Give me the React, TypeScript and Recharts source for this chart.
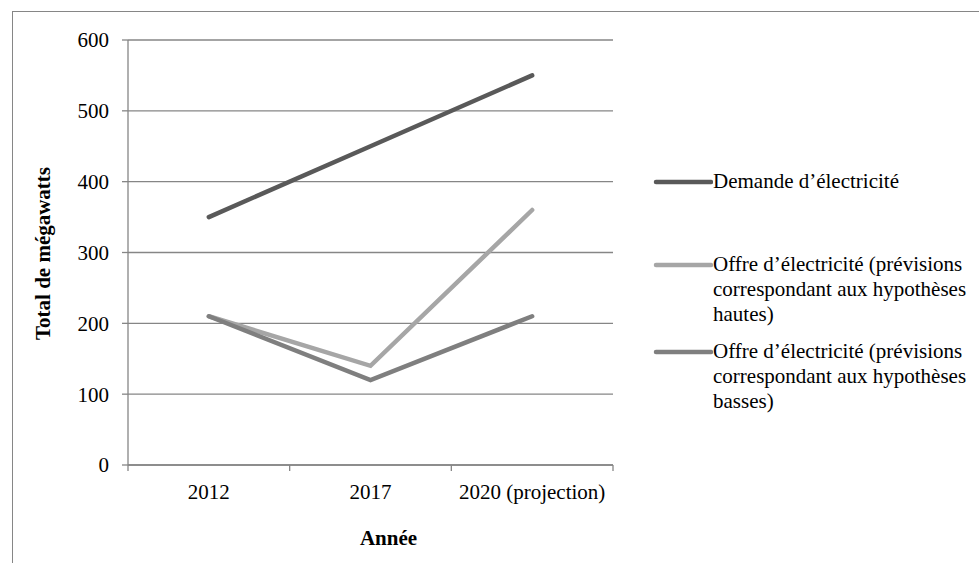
import React from 'react';
import { LineChart, Line, XAxis, YAxis, CartesianGrid, Legend, Label } from 'recharts';

// Categories and series values
const years = ['2012', '2017', '2020 (projection)'];
const demande = [350, 450, 550];
const offreHaute = [210, 140, 360];
const offreBasse = [210, 120, 210];
const yTicks = [0, 100, 200, 300, 400, 500, 600];

const seriesNames = [
  'Demande d’électricité',
  'Offre d’électricité (prévisions correspondant aux hypothèses hautes)',
  'Offre d’électricité (prévisions correspondant aux hypothèses basses)',
];

const data = years.map((y, i) => ({
  year: y,
  demande: demande[i],
  haute: offreHaute[i],
  basse: offreBasse[i],
}));

// Layout
const W = 979;
const H = 563;
const MARGIN = { top: 40, right: 366, left: 48, bottom: 38 };
const Y_AXIS_W = 80;
const X_AXIS_H = 60;
const PLOT_LEFT = MARGIN.left + Y_AXIS_W;
const PLOT_RIGHT = W - MARGIN.right;
const HALF_BAND = (PLOT_RIGHT - PLOT_LEFT) / years.length / 2;

const FONT = '"Liberation Serif", "Times New Roman", serif';
const AXIS_GREY = '#868686';
const COLORS = { demande: '#595959', haute: '#a6a6a6', basse: '#7f7f7f' };

const XTick = (props: any) => {
  const { x, y, payload, index } = props;
  return (
    <g>
      <line x1={x - HALF_BAND} x2={x - HALF_BAND} y1={y} y2={y + 6} stroke={AXIS_GREY} strokeWidth={1.3} />
      {index === years.length - 1 && (
        <line x1={x + HALF_BAND} x2={x + HALF_BAND} y1={y} y2={y + 6} stroke={AXIS_GREY} strokeWidth={1.3} />
      )}
      <text x={x} y={y + 27} textAnchor="middle" dominantBaseline="central" fontFamily={FONT} fontSize={21} fill="#000">
        {payload.value}
      </text>
    </g>
  );
};

const legendTops = [169, 252, 339];

// Legend entries keep the series order; the wrapper takes no room in the layout
const LegendContent = (props: any) => {
  const items = [...(props.payload || [])].sort(
    (a: any, b: any) => seriesNames.indexOf(a.value) - seriesNames.indexOf(b.value)
  );
  return (
    <div style={{ position: 'relative', width: 0, height: 0, overflow: 'visible' }}>
      {items.map((entry: any, i: number) => (
        <div
          key={entry.value}
          style={{ position: 'absolute', left: 0, top: legendTops[i], display: 'flex', alignItems: 'flex-start', width: 330 }}
        >
          <svg width={60} height={25} style={{ flex: 'none' }}>
            <line x1={3} x2={58} y1={13} y2={13} stroke={entry.color} strokeWidth={4.5} strokeLinecap="round" />
          </svg>
          <div style={{ fontFamily: FONT, fontSize: 21, lineHeight: '25px', color: '#000', width: 262 }}>
            {entry.value}
          </div>
        </div>
      ))}
    </div>
  );
};

export default function App() {
  return (
    <div style={{ position: 'absolute', left: 0, top: 0, width: W, height: H, background: '#fff', overflow: 'hidden' }}>
      <div
        style={{
          position: 'absolute',
          left: 11.5,
          top: 10.5,
          width: W,
          height: H,
          borderTop: `1.5px solid ${AXIS_GREY}`,
          borderLeft: `1.5px solid ${AXIS_GREY}`,
        }}
      />
      <LineChart width={W} height={H} data={data} margin={MARGIN}>
        <CartesianGrid vertical={false} stroke={AXIS_GREY} strokeWidth={1.3} />
        <XAxis
          dataKey="year"
          height={X_AXIS_H}
          padding={{ left: HALF_BAND, right: HALF_BAND }}
          axisLine={{ stroke: AXIS_GREY, strokeWidth: 1.3 }}
          tickLine={false}
          tickSize={0}
          tickMargin={0}
          tick={<XTick />}
          interval={0}
        >
          <Label
            content={(p: any) => {
              const vb = p.viewBox;
              return (
                <text
                  x={vb.x + vb.width / 2 + 18}
                  y={vb.y + 73}
                  textAnchor="middle"
                  dominantBaseline="central"
                  fontFamily={FONT}
                  fontSize={21}
                  fontWeight="bold"
                  fill="#000"
                >
                  Année
                </text>
              );
            }}
          />
        </XAxis>
        <YAxis
          width={Y_AXIS_W}
          domain={[0, 600]}
          ticks={yTicks}
          interval={0}
          axisLine={{ stroke: AXIS_GREY, strokeWidth: 1.3 }}
          tickLine={{ stroke: AXIS_GREY, strokeWidth: 1.3 }}
          tickSize={6}
          tickMargin={13}
          tick={{ fontFamily: FONT, fontSize: 21, fill: '#000' }}
        >
          <Label
            content={(p: any) => {
              const vb = p.viewBox;
              const cx = vb.x - 5;
              const cy = vb.y + vb.height / 2 + 1;
              return (
                <text
                  x={cx}
                  y={cy}
                  transform={`rotate(-90 ${cx} ${cy})`}
                  textAnchor="middle"
                  dominantBaseline="central"
                  fontFamily={FONT}
                  fontSize={21}
                  fontWeight="bold"
                  fill="#000"
                >
                  Total de mégawatts
                </text>
              );
            }}
          />
        </YAxis>
        <Legend
          content={<LegendContent />}
          wrapperStyle={{ position: 'absolute', left: 653, top: 0, width: 0, height: 0 }}
        />
        <Line
          name={seriesNames[0]}
          dataKey="demande"
          stroke={COLORS.demande}
          strokeWidth={4.5}
          strokeLinecap="round"
          dot={false}
          activeDot={false}
          isAnimationActive={false}
        />
        <Line
          name={seriesNames[1]}
          dataKey="haute"
          stroke={COLORS.haute}
          strokeWidth={4.5}
          strokeLinecap="round"
          dot={false}
          activeDot={false}
          isAnimationActive={false}
        />
        <Line
          name={seriesNames[2]}
          dataKey="basse"
          stroke={COLORS.basse}
          strokeWidth={4.5}
          strokeLinecap="round"
          dot={false}
          activeDot={false}
          isAnimationActive={false}
        />
      </LineChart>
    </div>
  );
}
